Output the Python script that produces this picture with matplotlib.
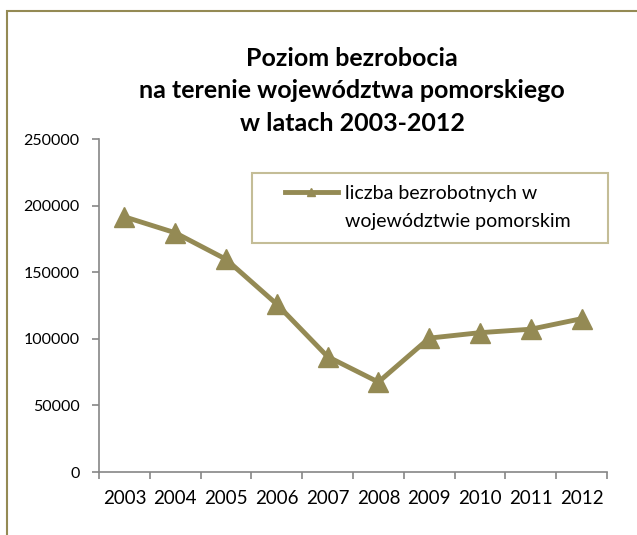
import matplotlib
matplotlib.use('Agg')
import matplotlib.pyplot as plt
from matplotlib.patches import Rectangle

years = ['2003', '2004', '2005', '2006', '2007', '2008', '2009', '2010', '2011', '2012']
unemployed = [191600, 179600, 159700, 126000, 86600, 67500, 100500, 104600, 107200, 115100]
yticks = [0, 50000, 100000, 150000, 200000, 250000]

olive = '#948A54'
legend_edge = '#C4BD97'
axis_gray = '#868686'
W, H = 637, 535

plt.rcParams['font.family'] = ['Lato', 'DejaVu Sans']

fig = plt.figure(figsize=(W / 100, H / 100), dpi=100)
ax = fig.add_axes([99/W, 1 - 472/H, (607 - 99)/W, (472 - 139)/H])

x = list(range(len(years)))
ax.plot(x, unemployed, color=olive, lw=3.5, marker='^', markersize=14,
        label='liczba bezrobotnych w')

ax.set_xlim(-0.5, len(years) - 0.5)
ax.set_ylim(0, 250000)
ax.set_yticks(yticks)
ax.set_yticklabels([str(v) for v in yticks], fontsize=11.5)

# category boundaries as major ticks, labels on minor ticks
ax.set_xticks([i - 0.5 for i in range(len(years) + 1)])
ax.set_xticklabels([])
ax.set_xticks(x, minor=True)
ax.set_xticklabels(years, minor=True, fontsize=13.5)
ax.tick_params(axis='x', which='minor', length=0, pad=13)
ax.tick_params(axis='both', which='major', length=5, color=axis_gray, width=1.2)
ax.tick_params(axis='y', pad=9)

for s in ['top', 'right']:
    ax.spines[s].set_visible(False)
for s in ['left', 'bottom']:
    ax.spines[s].set_color(axis_gray)
    ax.spines[s].set_linewidth(1.2)

fig.text(352/W, 1 - 91/H,
         'Poziom bezrobocia\nna terenie województwa pomorskiego\nw latach 2003-2012',
         ha='center', va='center', fontsize=18, fontweight='bold',
         linespacing=1.5)

# legend: frame drawn separately, entry placed on the first text line
fig.patches.append(Rectangle((252/W, 1 - 243/H), (608 - 252)/W, 70/H, transform=fig.transFigure,
                             fill=False, edgecolor=legend_edge, lw=1.5))
leg = ax.legend(loc='center left', bbox_to_anchor=(285/W, 1 - 193/H),
                bbox_transform=fig.transFigure, frameon=False,
                markerscale=0.45, fontsize=14, handlelength=2.7, handletextpad=0.4,
                borderpad=0, borderaxespad=0)
fig.canvas.draw()
tx = leg.get_texts()[0].get_window_extent()
fig.text(tx.x0 / W, 1 - 221/H, 'województwie pomorskim', fontsize=14,
         ha='left', va='center')

# outer chart border (cropped on the right and bottom)
fig.patches.append(Rectangle((7/W, -0.1), 2, 1.1 - 11/H, transform=fig.transFigure,
                             fill=False, edgecolor=olive, lw=1.5))

fig.savefig('out.png', dpi=100)
